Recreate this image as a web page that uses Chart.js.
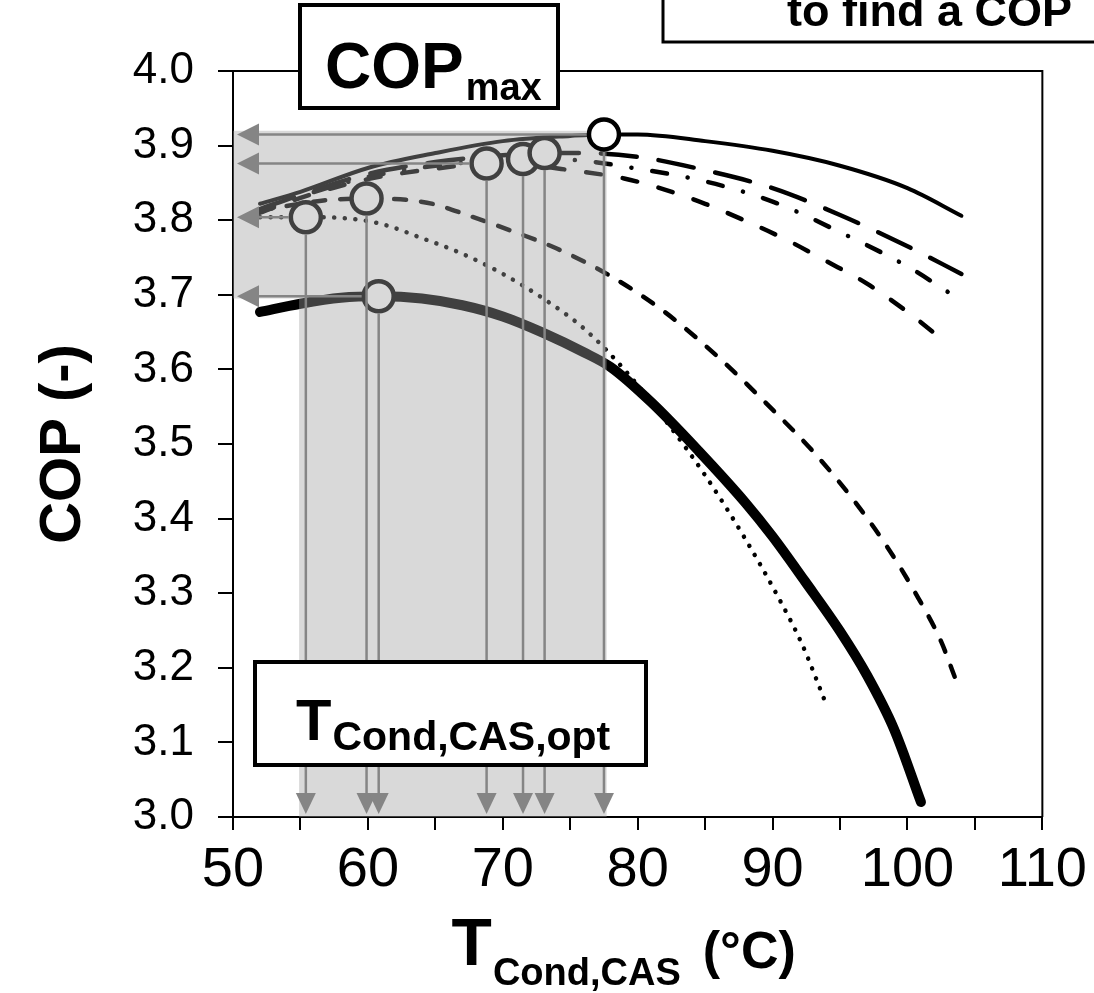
<!DOCTYPE html>
<html>
<head>
<meta charset="utf-8">
<title>COP vs T_Cond,CAS</title>
<script src="https://cdn.jsdelivr.net/npm/chart.js@4.4.1/dist/chart.umd.min.js"></script>
<style>
  html, body { margin: 0; padding: 0; background: #fff; }
  canvas { display: block; }
</style>
</head>
<body>
<canvas id="grafica" width="1094" height="993"></canvas>
<script>
// T_Cond,CAS (°C) and COP (-)
const solidT   = [52, 55, 60, 65, 70, 75, 77.5, 80, 85, 90, 95, 100, 104];
const solidCOP = [3.822, 3.838, 3.870, 3.890, 3.906, 3.913, 3.915, 3.915, 3.906, 3.893, 3.873, 3.843, 3.806];

const longDashT   = [52, 55, 60, 65, 70, 73.1, 76, 80, 85, 90, 95, 100, 104];
const longDashCOP = [3.815, 3.834, 3.862, 3.878, 3.887, 3.890, 3.890, 3.885, 3.867, 3.843, 3.807, 3.765, 3.728];

const dashDotT   = [52, 55, 60, 65, 70, 71.5, 75, 80, 85, 90, 95, 100, 103.5];
const dashDotCOP = [3.812, 3.832, 3.858, 3.873, 3.881, 3.882, 3.881, 3.869, 3.852, 3.825, 3.784, 3.738, 3.698];

const medDashT   = [52, 55, 60, 65, 68.8, 72, 75, 79, 82, 85, 88, 91, 94, 97, 100, 103];
const medDashCOP = [3.810, 3.830, 3.855, 3.869, 3.876, 3.874, 3.867, 3.856, 3.841, 3.822, 3.799, 3.774, 3.745, 3.715, 3.677, 3.634];

const shortDashT   = [52, 55, 57, 59.9, 63, 65, 67.5, 70, 74, 78, 82, 86, 90, 93, 96, 98.5, 100.5, 102.5, 103.5];
const shortDashCOP = [3.813, 3.822, 3.827, 3.829, 3.827, 3.821, 3.806, 3.790, 3.762, 3.725, 3.677, 3.616, 3.546, 3.490, 3.425, 3.362, 3.303, 3.235, 3.188];

const dotT   = [52, 55.4, 58, 61, 64, 67, 70, 73, 76, 79, 82, 85, 88, 90.5, 92.2, 94];
const dotCOP = [3.804, 3.804, 3.803, 3.795, 3.776, 3.755, 3.728, 3.695, 3.655, 3.600, 3.533, 3.458, 3.372, 3.292, 3.231, 3.150];

const thickT   = [52, 55, 58, 60.8, 64, 67, 70, 73, 76, 78, 81, 84.5, 88, 90, 92.4, 95, 97, 99, 101];
const thickCOP = [3.677, 3.688, 3.696, 3.698, 3.695, 3.686, 3.671, 3.649, 3.623, 3.603, 3.556, 3.491, 3.421, 3.376, 3.316, 3.249, 3.190, 3.118, 3.020];

// optimum points (circles) and which ones get an arrow to the COP axis
const optT   = [55.4, 59.9, 60.8, 68.8, 71.5, 73.1, 77.5];
const optCOP = [3.804, 3.829, 3.698, 3.876, 3.882, 3.890, 3.915];
const copArrowIdx = [6, 3, 0, 2];

const xTicks = [50, 60, 70, 80, 90, 100, 110];

const FONT = "'Liberation Sans', Arial, sans-serif";
const R = 17; // outer circle radius (px)

const pts = (xs, ys) => xs.map((t, i) => ({ x: t, y: ys[i] }));

function curve(xs, ys, width, dash) {
  return {
    data: pts(xs, ys),
    borderColor: '#000',
    borderWidth: width,
    borderDash: dash,
    borderCapStyle: 'round',
    borderJoinStyle: 'round',
    pointRadius: 0,
    cubicInterpolationMode: 'monotone',
    fill: false,
    order: 3
  };
}

function circles(xs, ys, order) {
  return {
    data: pts(xs, ys),
    showLine: false,
    pointRadius: 15,
    pointBorderWidth: 4.5,
    pointBorderColor: '#000',
    pointBackgroundColor: '#fff',
    order: order
  };
}

const datasets = [
  curve(solidT, solidCOP, 4, []),
  curve(longDashT, longDashCOP, 4.5, [36, 22]),
  curve(dashDotT, dashDotCOP, 4.5, [15, 21, 0.1, 21]),
  curve(medDashT, medDashCOP, 4.5, [15, 22]),
  curve(shortDashT, shortDashCOP, 4.5, [12, 15]),
  curve(dotT, dotCOP, 4.5, [0.1, 10.5]),
  curve(thickT, thickCOP, 10, []),
  circles(optT.slice(0, 6), optCOP.slice(0, 6), 2), // under the shade
  circles(optT.slice(6), optCOP.slice(6), 1)        // overall maximum, on top
];

function box(ctx, l, t, r, b, lw) {
  ctx.fillStyle = '#fff';
  ctx.fillRect(l, t, r - l, b - t);
  ctx.strokeStyle = '#000';
  ctx.lineWidth = lw;
  ctx.strokeRect(l, t, r - l, b - t);
}

const overlay = {
  id: 'overlay',
  afterDatasetDraw(chart, args) {
    if (args.index !== 7) return;
    const { ctx, scales: { x, y } } = chart;
    const X = v => x.getPixelForValue(v), Y = v => y.getPixelForValue(v);
    ctx.save();
    // shaded zone
    ctx.fillStyle = 'rgba(160,160,160,0.4)';
    ctx.beginPath();
    ctx.moveTo(X(50), Y(3.92));
    ctx.lineTo(X(77.7), Y(3.92));
    ctx.lineTo(X(77.7), Y(3.0));
    ctx.lineTo(X(54.9), Y(3.0));
    ctx.lineTo(X(54.9), Y(3.695));
    ctx.lineTo(X(50), Y(3.695));
    ctx.closePath();
    ctx.fill();

    // arrows down to the temperature axis
    ctx.strokeStyle = '#858585';
    ctx.fillStyle = '#858585';
    ctx.lineWidth = 2.5;
    const yb = Y(3.0), xl = X(50);
    optT.forEach((t, i) => {
      const px = X(t), py = Y(optCOP[i]);
      ctx.beginPath();
      ctx.moveTo(px, py + R);
      ctx.lineTo(px, yb - 20);
      ctx.stroke();
      ctx.beginPath();
      ctx.moveTo(px - 10, yb - 24);
      ctx.lineTo(px + 10, yb - 24);
      ctx.lineTo(px, yb - 3);
      ctx.closePath();
      ctx.fill();
    });
    // arrows left to the COP axis
    copArrowIdx.forEach(i => {
      const px = X(optT[i]), py = Y(optCOP[i]);
      ctx.beginPath();
      ctx.moveTo(px - R, py);
      ctx.lineTo(xl + 20, py);
      ctx.stroke();
      ctx.beginPath();
      ctx.moveTo(xl + 26, py - 11);
      ctx.lineTo(xl + 26, py + 11);
      ctx.lineTo(xl + 4, py);
      ctx.closePath();
      ctx.fill();
    });
    ctx.restore();
  },
  afterDraw(chart) {
    const { ctx, chartArea: a } = chart;
    ctx.save();
    // frame top + right
    ctx.strokeStyle = '#000';
    ctx.lineWidth = 2;
    ctx.beginPath();
    ctx.moveTo(a.left, a.top);
    ctx.lineTo(a.right, a.top);
    ctx.lineTo(a.right, a.bottom);
    ctx.stroke();

    ctx.fillStyle = '#000';
    ctx.textBaseline = 'alphabetic';
    ctx.textAlign = 'left';

    // x axis title with subscript
    const big = `bold 66px ${FONT}`, sub = `bold 38px ${FONT}`, unit = `bold 52px ${FONT}`;
    ctx.font = big; const w1 = ctx.measureText('T').width;
    ctx.font = sub; const w2 = ctx.measureText('Cond,CAS').width;
    ctx.font = unit; const w3 = ctx.measureText('(°C)').width;
    const gap = 22;
    const total = w1 + 1 + w2 + gap + w3;
    const x0 = (a.left + a.right) / 2 - 14 - total / 2;
    ctx.font = big; ctx.fillText('T', x0, 965);
    ctx.font = sub; ctx.fillText('Cond,CAS', x0 + w1 + 1, 985);
    ctx.font = unit; ctx.fillText('(°C)', x0 + w1 + 1 + w2 + gap, 968);

    // COP_max label
    box(ctx, 300, 5, 558, 108, 4);
    ctx.fillStyle = '#000';
    ctx.font = `bold 64px ${FONT}`;
    ctx.fillText('COP', 325, 88);
    const wc = ctx.measureText('COP').width;
    ctx.font = `bold 38px ${FONT}`;
    ctx.fillText('max', 325 + wc + 2, 100);

    // T_Cond,CAS,opt label
    box(ctx, 255, 662, 646, 765, 4);
    ctx.fillStyle = '#000';
    ctx.font = `bold 58px ${FONT}`;
    ctx.fillText('T', 296, 740);
    const wt = ctx.measureText('T').width;
    ctx.font = `bold 41px ${FONT}`;
    ctx.fillText('Cond,CAS,opt', 296 + wt + 1, 750);

    // cut-off note at the top right
    box(ctx, 663, -20, 1120, 42, 3);
    ctx.fillStyle = '#000';
    ctx.font = `bold 45px ${FONT}`;
    ctx.fillText('to find a COP', 787, 26);
    ctx.restore();
  }
};

new Chart(document.getElementById('grafica'), {
  type: 'line',
  data: { datasets },
  options: {
    responsive: false,
    animation: false,
    devicePixelRatio: 1,
    layout: { padding: { top: 71, right: 50, left: 0, bottom: 0 } },
    plugins: { legend: { display: false }, tooltip: { enabled: false } },
    scales: {
      x: {
        type: 'linear',
        min: 50,
        max: 110,
        border: { display: true, color: '#000', width: 2 },
        grid: { drawOnChartArea: false, drawTicks: true, tickLength: 13, color: '#000', lineWidth: 2 },
        ticks: {
          stepSize: 5,
          autoSkip: false,
          maxRotation: 0,
          padding: 7,
          color: '#000',
          font: { family: FONT, size: 56 },
          callback: v => (xTicks.includes(v) ? String(v) : '')
        },
        afterFit: s => { s.height = 176; }
      },
      y: {
        type: 'linear',
        min: 3.0,
        max: 4.0,
        border: { display: true, color: '#000', width: 2 },
        grid: { drawOnChartArea: false, drawTicks: true, tickLength: 15, color: '#000', lineWidth: 2 },
        ticks: {
          stepSize: 0.1,
          padding: 24,
          color: '#000',
          font: { family: FONT, size: 44 },
          callback: v => Number(v).toFixed(1)
        },
        title: {
          display: true,
          text: 'COP (-)',
          color: '#000',
          font: { family: FONT, size: 58, weight: 'bold' },
          padding: { top: 29, bottom: 0 }
        },
        afterFit: s => { s.width = 233; }
      }
    }
  },
  plugins: [overlay]
});
</script>
</body>
</html>
